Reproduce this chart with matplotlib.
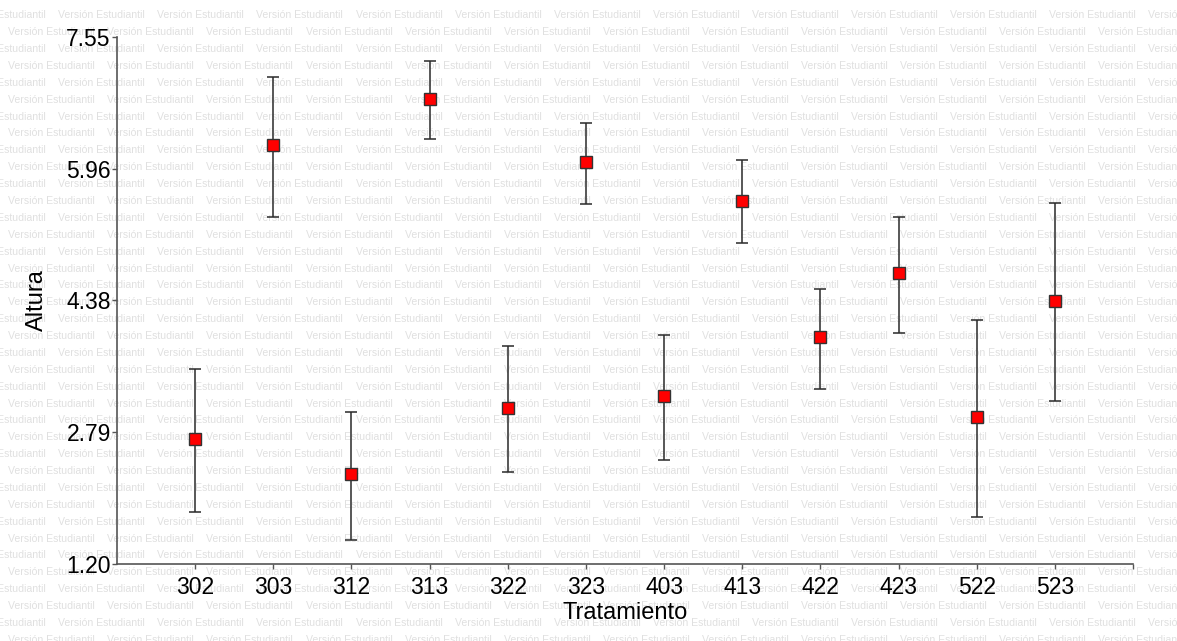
import numpy as np
import matplotlib
matplotlib.use("Agg")
import matplotlib.pyplot as plt

plt.rcParams['font.family'] = ['Liberation Sans', 'DejaVu Sans']

# ------------------------------------------------------------------ dados

tratamientos = ['302', '303', '312', '313', '322', '323',
                '403', '413', '422', '423', '522', '523']
altura_media = [2.70, 6.24, 2.28, 6.80, 3.08, 6.04,
                3.22, 5.57, 3.93, 4.70, 2.97, 4.37]
altura_inf = [1.82, 5.38, 1.49, 6.32, 2.30, 5.53,
              2.45, 5.06, 3.31, 3.98, 1.76, 3.16]
altura_sup = [3.54, 7.06, 3.03, 7.26, 3.82, 6.51,
              3.96, 6.06, 4.51, 5.38, 4.14, 5.55]
y_ticks = [1.20, 2.79, 4.38, 5.96, 7.55]

marca_agua = "Versión Estudiantil"

# ------------------------------------------------------------------ figura

fig = plt.figure(figsize=(11.77, 6.41), dpi=100)
ax = fig.add_axes([117 / 1177, 1 - 563.7 / 641, 1016 / 1177, 527 / 641])
ax.patch.set_visible(False)

# marca de água em mosaico (atrás de tudo)
W, H = 1177, 641
for k in range(39):
    yp = 15.3 + 16.88 * k
    x0 = 58.3 if k % 2 == 0 else 8.3
    for j in range(-1, 12):
        xp = x0 + 99.1 * j
        fig.text(xp / W, 1 - yp / H, marca_agua, fontsize=7.6,
                 color='#e0e0e0', ha='left', va='center', zorder=-5)

x = np.arange(len(tratamientos))
media = np.array(altura_media)
err = [media - np.array(altura_inf), np.array(altura_sup) - media]

ax.errorbar(x, media, yerr=err, fmt='none', ecolor='#2a2a2a',
            elinewidth=1.1, capsize=4.3, capthick=1.1, zorder=2)
ax.plot(x, media, linestyle='none', marker='s', markersize=8.6,
        markerfacecolor='#ff0000', markeredgecolor='#333333',
        markeredgewidth=1.0, zorder=3)

ax.set_xlim(-1, len(tratamientos))
ax.set_ylim(y_ticks[0], y_ticks[-1])
ax.set_xticks(list(x) + [len(tratamientos)])
ax.set_xticklabels(tratamientos + [''])
ax.set_yticks(y_ticks)
ax.set_yticklabels([f'{v:.2f}' for v in y_ticks])

for s in ['top', 'right']:
    ax.spines[s].set_visible(False)
for s in ['left', 'bottom']:
    ax.spines[s].set_color('#555555')
    ax.spines[s].set_linewidth(1.2)

ax.tick_params(axis='both', colors='#555555', labelcolor='black',
               labelsize=16.5, width=1.0)
ax.tick_params(axis='y', length=3.5, pad=1)
ax.tick_params(axis='x', length=3.5, pad=5)

ax.set_xlabel('Tratamiento', fontsize=17, va='center')
ax.set_ylabel('Altura', fontsize=17, va='center')
ax.xaxis.set_label_coords(0.5, (563.7 - 613) / 527)
ax.yaxis.set_label_coords((37 - 117) / 1016, 0.5)

plt.savefig('out.png', dpi=100)
plt.close()
